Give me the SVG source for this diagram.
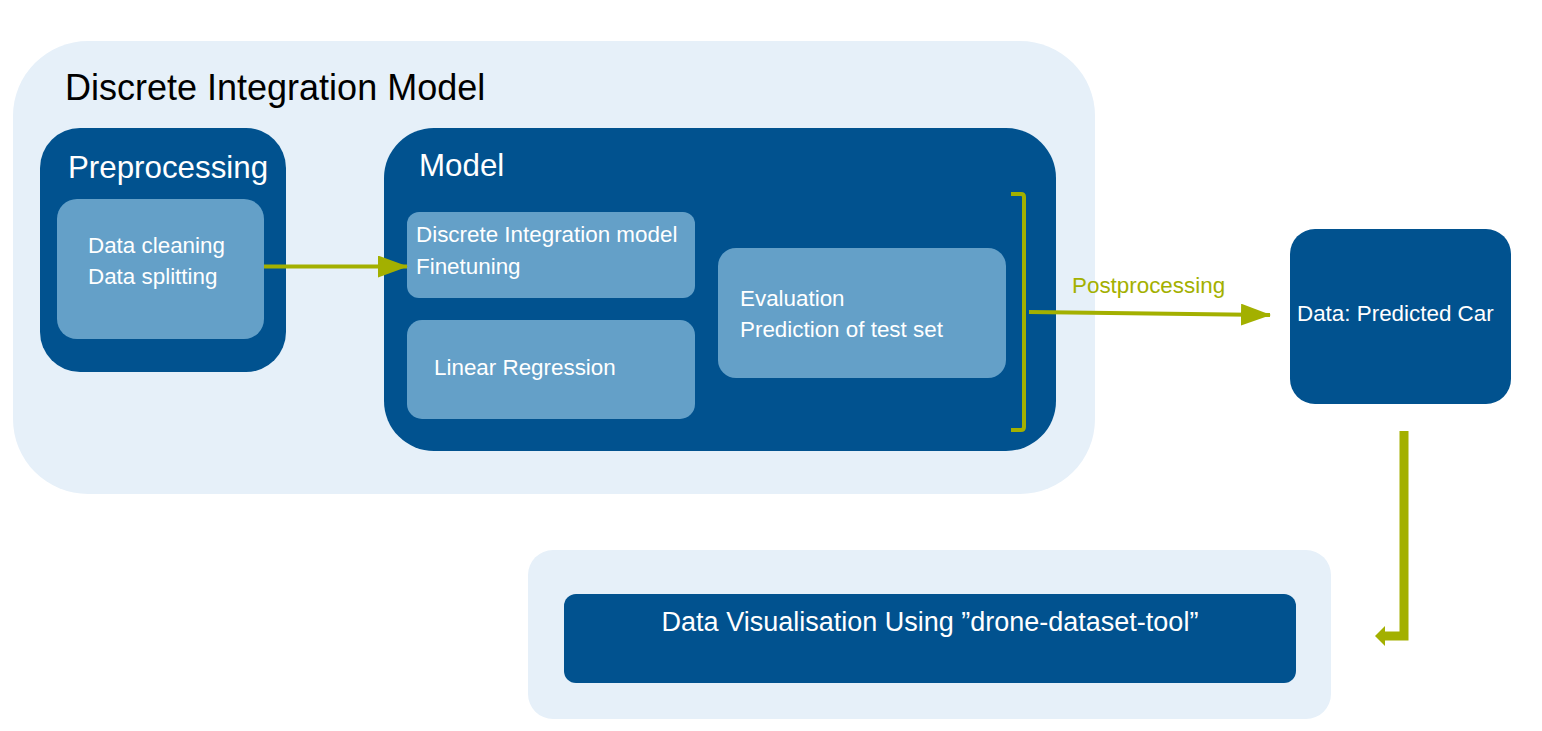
<svg xmlns="http://www.w3.org/2000/svg" width="1542" height="731" viewBox="0 0 1542 731">
<style>
.light{fill:#E6F0F9}
.dark{fill:#01528F}
.mid{fill:#64A0C8}
.t{font-family:"Liberation Sans",Arial,sans-serif;fill:#fff}
.body{font-size:22.4px}
.g{stroke:#A3B000;fill:none}
</style>
<defs>
<marker id="ah" viewBox="0 0 30 22" refX="29" refY="11" markerWidth="30" markerHeight="22" markerUnits="userSpaceOnUse" orient="auto">
<path d="M0,0 L30,11 L0,22 Z" fill="#A3B000"/>
</marker>
</defs>
<rect width="1542" height="731" fill="#fff"/>
<g id="dim">
<rect class="light" x="13" y="41" width="1082" height="453" rx="75"/>
<text x="65" y="100" font-family="Liberation Sans,Arial,sans-serif" font-size="36" fill="#000">Discrete Integration Model</text>
</g>
<g id="preprocessing">
<rect class="dark" x="40" y="128" width="246" height="244" rx="40"/>
<text class="t" x="68" y="178" font-size="31.3">Preprocessing</text>
<rect class="mid" x="57" y="199" width="207" height="140" rx="20"/>
<text class="t body" x="88" y="253">Data cleaning</text>
<text class="t body" x="88" y="284">Data splitting</text>
</g>
<g id="model">
<rect class="dark" x="384" y="128" width="672" height="323" rx="50"/>
<text class="t" x="419" y="176" font-size="31.3">Model</text>
<g id="dim-finetuning">
<rect class="mid" x="407" y="212" width="288" height="86" rx="12"/>
<text class="t body" x="416" y="242">Discrete Integration model</text>
<text class="t body" x="416" y="274">Finetuning</text>
</g>
<g id="linreg">
<rect class="mid" x="407" y="320" width="288" height="99" rx="15"/>
<text class="t body" x="434" y="375">Linear Regression</text>
</g>
<g id="evaluation">
<rect class="mid" x="718" y="248" width="288" height="130" rx="18"/>
<text class="t body" x="740" y="306">Evaluation</text>
<text class="t body" x="740" y="337">Prediction of test set</text>
</g>
</g>
<g id="predicted">
<rect class="dark" x="1290" y="229" width="221" height="175" rx="25"/>
<text class="t body" x="1297" y="321">Data: Predicted Car</text>
</g>
<g id="visualisation">
<rect class="light" x="528" y="550" width="803" height="169" rx="25"/>
<rect class="dark" x="564" y="594" width="732" height="89" rx="12"/>
<text class="t" x="930" y="631" font-size="27" text-anchor="middle">Data Visualisation Using ”drone-dataset-tool”</text>
</g>
<g id="connectors">
<line class="g" x1="264" y1="266.5" x2="407" y2="266.5" stroke-width="4" marker-end="url(#ah)"/>
<path class="g" d="M1011,194 L1021,194 Q1024,194 1024,197 L1024,427 Q1024,430 1021,430 L1011,430" stroke-width="4"/>
<line class="g" x1="1029" y1="312" x2="1270" y2="315" stroke-width="4" marker-end="url(#ah)"/>
<text x="1072" y="293" font-family="Liberation Sans,Arial,sans-serif" font-size="22.4" fill="#A3B000">Postprocessing</text>
<path class="g" d="M1404,431 L1404,636 L1384,636" stroke-width="9"/>
<path d="M1375,636 L1385,626 L1385,646 Z" fill="#A3B000"/>
</g>
</svg>
